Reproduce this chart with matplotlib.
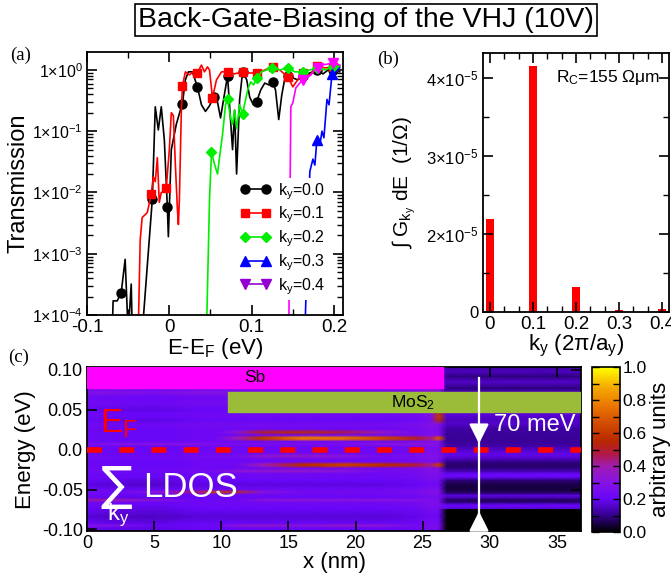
import numpy as np
import matplotlib.pyplot as plt
from matplotlib.colors import LinearSegmentedColormap
from matplotlib.lines import Line2D
from matplotlib.patches import Rectangle
from matplotlib.ticker import MultipleLocator, FixedLocator, FixedFormatter, LogLocator, NullFormatter

plt.rcParams['font.family'] = ['Liberation Sans', 'DejaVu Sans']
plt.rcParams['mathtext.fontset'] = 'custom'
plt.rcParams['mathtext.rm'] = 'Liberation Sans'
plt.rcParams['mathtext.it'] = 'Liberation Sans'
plt.rcParams['mathtext.default'] = 'regular'
plt.rcParams['axes.linewidth'] = 1.3

# (a) transmission vs energy for each k_y
e_k0 = [-0.0695, -0.0683, -0.0634, -0.0585, -0.0537, -0.0500, -0.0463, -0.0450, -0.0330, -0.0207,
        -0.0171, -0.0134, -0.0098, -0.0061, -0.0024, -0.0012, 0.0024, 0.0085, 0.0134, 0.0159,
        0.0195, 0.0232, 0.0280, 0.0341, 0.0390, 0.0439, 0.0488, 0.0537, 0.0585, 0.0622,
        0.0659, 0.0707, 0.0744, 0.0768, 0.0793, 0.0817, 0.0854, 0.0890, 0.0940, 0.0976,
        0.1020, 0.1060, 0.1110, 0.1159, 0.1207, 0.1256, 0.1290, 0.1329, 0.1366, 0.1400,
        0.1440, 0.1500, 0.1560, 0.1620, 0.1680, 0.1740, 0.1800, 0.1866, 0.1930, 0.1990, 0.2070]
t_k0 = [5e-5, 1.7e-4, 1.7e-4, 2.3e-4, 8.1e-4, 5e-5, 3.2e-4, 5e-5, 5e-5, 7.7e-3,
        0.25, 0.105, 0.25, 0.073, 5.7e-3, 1.9e-3, 0.05, 0.13, 0.22, 0.28,
        0.69, 0.93, 0.93, 0.53, 0.27, 0.21, 0.26, 0.36, 0.30, 0.165,
        0.33, 0.80, 0.15, 0.05, 0.22, 0.02, 0.33, 0.93, 0.69, 0.36,
        0.27, 0.30, 0.47, 0.61, 0.57, 0.64, 0.47, 0.155, 0.39, 0.69,
        0.80, 0.74, 0.69, 0.80, 0.86, 0.93, 1.00, 0.86, 1.00, 1.00, 0.93]
m_k0 = [3, 9, 14, 19, 23, 27, 31, 37, 41, 45, 50, 53, 56, 59]

e_k1 = [-0.0378, -0.0354, -0.0330, -0.0268, -0.0220, -0.0195, -0.0171, -0.0146, -0.0122, -0.0098,
        -0.0061, -0.0037, 0.0000, 0.0024, 0.0049, 0.0073, 0.0098, 0.0110, 0.0122, 0.0146,
        0.0159, 0.0195, 0.0244, 0.0290, 0.0341, 0.0390, 0.0427, 0.0463, 0.0488, 0.0524,
        0.0573, 0.0634, 0.0707, 0.0790, 0.0890, 0.0976, 0.1070, 0.1160, 0.1256, 0.1340,
        0.1440, 0.1500, 0.1560, 0.1620, 0.1710, 0.1800, 0.1890, 0.1990, 0.2070]
t_k1 = [5e-5, 1.7e-3, 3.9e-3, 4.7e-3, 9.3e-3, 0.018, 0.015, 0.037, 6.9e-3, 0.010,
        0.0104, 0.012, 0.05, 0.20, 0.18, 0.029, 5.3e-3, 3.0e-3, 7.7e-3, 0.22,
        0.55, 0.93, 0.83, 0.93, 0.89, 1.20, 0.93, 1.12, 1.00, 0.35,
        0.69, 0.93, 0.93, 0.86, 0.93, 0.89, 0.89, 1.00, 1.12, 1.00,
        0.77, 0.53, 0.69, 0.88, 0.83, 1.16, 1.08, 1.12, 1.16]
m_k1 = [4, 11, 20, 24, 29, 32, 34, 36, 38, 40, 43, 45, 47]

e_k2 = [0.0451, 0.0488, 0.0512, 0.0549, 0.0585, 0.0622, 0.0646, 0.0683, 0.0707, 0.0744,
        0.0768, 0.0793, 0.0817, 0.0854, 0.0890, 0.0927, 0.0951, 0.0988, 0.1024, 0.1061,
        0.1120, 0.1183, 0.1244, 0.1340, 0.1440, 0.1524, 0.1620, 0.1710, 0.1800, 0.1890,
        0.1990, 0.2070]
t_k2 = [5e-5, 7.7e-3, 0.045, 0.029, 0.020, 0.050, 0.088, 0.27, 0.33, 0.165,
        0.13, 0.22, 0.11, 0.27, 0.19, 0.33, 0.47, 0.64, 0.57, 0.74,
        0.93, 1.00, 1.08, 1.00, 1.08, 0.93, 0.93, 1.00, 1.08, 1.00,
        1.12, 1.16]
m_k2 = [2, 8, 14, 19, 22, 24, 26, 28, 30]

e_k3 = [0.1646, 0.1707, 0.1744, 0.1768, 0.1793, 0.1830, 0.1854, 0.1878, 0.1915, 0.1940,
        0.1976, 0.2012, 0.2070]
t_k3 = [5e-5, 0.022, 0.035, 0.028, 0.073, 0.060, 0.100, 0.078, 0.33, 0.27,
        0.85, 0.89, 1.08]
m_k3 = [4, 10]

e_k4 = [0.1451, 0.1476, 0.1500, 0.1537, 0.1585, 0.1622, 0.1670, 0.1720, 0.1768, 0.1805,
        0.1854, 0.1930, 0.1988, 0.2070]
t_k4 = [5e-5, 0.25, 0.29, 0.51, 0.61, 0.69, 0.74, 0.83, 1.00, 1.08,
        1.20, 1.25, 1.30, 1.20]
m_k4 = [5, 9, 12]

# (b) energy-integrated conductance per k_y
ky = [0.0, 0.1, 0.2, 0.3, 0.4]
g_int = [2.19e-5, 4.15e-5, 1.32e-5, 1.025e-5, 1.04e-5]

# (c) k_y-summed LDOS map: grid columns (nm), rows (eV)
x_cols = [0, 2, 5, 8, 9.5, 11, 13, 16, 19, 22, 24.5, 25.6, 26.2, 26.8, 27.4, 30, 33, 36.8]
sb_shift = [0.0, -0.01, -0.02, 0.0, 0.0, 0.0, 0.0, 0.0, 0.0, 0.0, 0.02, 0.05, 0.04]
e_rows = [-0.102, -0.098, -0.095, -0.092, -0.084, -0.0745, -0.0735, -0.069, -0.066, -0.063,
          -0.060, -0.057, -0.0555, -0.053, -0.050, -0.044, -0.038, -0.034, -0.030, -0.027,
          -0.023, -0.020, -0.018, -0.015, -0.012, -0.008, -0.004, 0.000, 0.004, 0.007,
          0.0105, 0.0135, 0.0155, 0.0185, 0.022, 0.026, 0.032, 0.037, 0.041, 0.046, 0.050,
          0.058, 0.066, 0.072, 0.077, 0.085, 0.092, 0.098, 0.103]
sb_bg = [0.20, 0.20, 0.22, 0.20, 0.17, 0.20, 0.20, 0.22, 0.22, 0.22,
         0.20, 0.22, 0.22, 0.24, 0.22, 0.18, 0.20, 0.22, 0.22, 0.24,
         0.22, 0.22, 0.22, 0.22, 0.22, 0.24, 0.22, 0.22, 0.22, 0.26,
         0.22, 0.22, 0.22, 0.22, 0.22, 0.22, 0.24, 0.20, 0.22, 0.22, 0.20,
         0.24, 0.22, 0.30, 0.22, 0.22, 0.22, 0.22, 0.22]
mos2_bg = [0.00, 0.00, 0.00, 0.00, 0.00, 0.00, 0.18, 0.20, 0.09, 0.07,
           0.14, 0.18, 0.12, 0.07, 0.05, 0.05, 0.09, 0.20, 0.20, 0.14,
           0.09, 0.08, 0.08, 0.10, 0.14, 0.18, 0.18, 0.16, 0.13, 0.12,
           0.11, 0.11, 0.11, 0.11, 0.12, 0.12, 0.16, 0.15, 0.16, 0.18, 0.14,
           0.15, 0.12, 0.15, 0.09, 0.16, 0.09, 0.15, 0.12]
# bright states on the Sb side: (energies, {column: value})
ldos_peaks = [
    ((-0.095,), {0: 0.30, 1: 0.30, 5: 0.33, 6: 0.36, 7: 0.32, 8: 0.36, 9: 0.33}),
    ((-0.063,), {0: 0.42, 1: 0.40, 2: 0.32, 6: 0.32, 7: 0.34, 8: 0.32, 9: 0.32, 10: 0.30}),
    ((-0.053,), {2: 0.32, 3: 0.45, 4: 0.64, 5: 0.58, 6: 0.32}),
    ((-0.027,), {5: 0.32, 6: 0.35, 7: 0.35, 8: 0.32}),
    ((-0.020, -0.018), {6: 0.38, 7: 0.55, 8: 0.62, 9: 0.56, 10: 0.48, 11: 0.42, 12: 0.62}),
    ((-0.008,), {6: 0.34, 7: 0.36, 8: 0.32}),
    ((0.007,), {1: 0.30, 2: 0.30, 3: 0.30, 9: 0.32, 10: 0.32}),
    ((0.0135, 0.0155), {5: 0.36, 6: 0.58, 7: 0.76, 8: 0.74, 9: 0.64, 10: 0.50, 11: 0.42,
                        12: 0.68}),
    ((0.022,), {5: 0.32, 6: 0.52, 7: 0.56, 8: 0.48, 9: 0.36}),
    ((0.037,), {12: 0.56}),
    ((0.041,), {12: 0.60}),
    ((0.046,), {12: 0.56}),
]

ldos = np.empty((len(e_rows), len(x_cols)))
n_sb = len(sb_shift)
ldos[:, :n_sb] = np.array(sb_bg)[:, None] + np.array(sb_shift)[None, :]
ldos[:, n_sb:] = np.array(mos2_bg)[:, None]
for energies, cols in ldos_peaks:
    for e in energies:
        i = e_rows.index(e)
        for c, v in cols.items():
            ldos[i, c] = v

ldos_cmap = LinearSegmentedColormap.from_list('ldos', [
    (0.0, '#000000'), (0.1, '#34008c'), (0.2, '#6806f8'), (0.3, '#8612e4'),
    (0.4, '#a01cb0'), (0.47, '#b01848'), (0.55, '#b82800'), (0.65, '#d04800'),
    (0.75, '#e87000'), (0.87, '#f4a400'), (1.0, '#ffff00')])


def style_ticks(ax):
    ax.tick_params(which='both', direction='in', top=True, right=True)
    ax.tick_params(which='major', length=7, width=1.2)
    ax.tick_params(which='minor', length=4, width=1.0)


fig = plt.figure(figsize=(6.71, 5.85), dpi=100)

fig.text(0.5455, 0.966, 'Back-Gate-Biasing of the VHJ (10V)', ha='center', va='center',
         fontsize=20.5, bbox=dict(boxstyle='square,pad=0.1', fc='white', ec='black', lw=1.2))

# ---- panel (a)
ax_a = fig.add_axes([0.1297, 0.4615, 0.3815, 0.4496])
ax_a.set_yscale('log')
series = [
    (e_k0, t_k0, m_k0, 'black', 'o', 6.5),
    (e_k1, t_k1, m_k1, 'red', 's', 5.5),
    (e_k2, t_k2, m_k2, '#00ee00', 'D', 5.0),
    (e_k3, t_k3, m_k3, 'blue', '^', 6.5),
    (e_k4, t_k4, m_k4, '#ff00ff', 'v', 6.5),
]
for e, t, m, col, mk, ms in series:
    ax_a.plot(e, t, color=col, lw=1.2, marker=mk, ms=ms, markevery=m, mfc=col, mec=col)
ax_a.set_xlim(-0.1, 0.211)
ax_a.set_ylim(1e-4, 1.96)
ax_a.xaxis.set_major_locator(FixedLocator([-0.1, 0.0, 0.1, 0.2]))
ax_a.xaxis.set_major_formatter(FixedFormatter(['-0.1', '0', '0.1', '0.2']))
ax_a.xaxis.set_minor_locator(MultipleLocator(0.05))
ax_a.yaxis.set_major_locator(FixedLocator([1e-4, 1e-3, 1e-2, 1e-1, 1e0]))
ax_a.yaxis.set_major_formatter(FixedFormatter(
    ['1×10$^{-4}$', '1×10$^{-3}$', '1×10$^{-2}$', '1×10$^{-1}$', '1×10$^{0}$']))
ax_a.yaxis.set_minor_locator(LogLocator(base=10, subs=np.arange(2, 10), numticks=20))
ax_a.yaxis.set_minor_formatter(NullFormatter())
style_ticks(ax_a)
ax_a.tick_params(axis='x', labelsize=13.5, pad=3)
ax_a.tick_params(axis='y', labelsize=11.5, pad=3)
ax_a.set_xlabel('E-E$_F$ (eV)', fontsize=16, labelpad=0)
ax_a.set_ylabel('Transmission', fontsize=17, labelpad=2)

leg_handles = [
    Line2D([0], [0], color='black', lw=1.2, marker='o', ms=6.5),
    Line2D([0], [0], color='red', lw=1.2, marker='s', ms=5.5),
    Line2D([0], [0], color='#00ee00', lw=1.2, marker='D', ms=5.0),
    Line2D([0], [0], color='blue', lw=1.2, marker='^', ms=6.5),
    Line2D([0], [0], color='#9400d3', lw=1.2, marker='v', ms=6.5),
]
leg_labels = ['k$_y$=0.0', 'k$_y$=0.1', 'k$_y$=0.2', 'k$_y$=0.3', 'k$_y$=0.4']
leg = ax_a.legend(leg_handles, leg_labels, loc='upper left', bbox_to_anchor=(0.586, 0.522),
                  borderaxespad=0, frameon=True, facecolor='white', edgecolor='none',
                  framealpha=1, fancybox=False, numpoints=2, handlelength=1.9,
                  handletextpad=0.45, labelspacing=0.2, fontsize=11.5, borderpad=0.2)

# ---- panel (b)
ax_b = fig.add_axes([0.7198, 0.4667, 0.2772, 0.4427])
ax_b.bar(ky, g_int, width=0.018, color='red')
ax_b.set_xlim(-0.016, 0.416)
ax_b.set_ylim(1e-5, 4.32e-5)
ax_b.xaxis.set_major_locator(FixedLocator(ky))
ax_b.xaxis.set_major_formatter(FixedFormatter(['0', '0.1', '0.2', '0.3', '0.4']))
ax_b.xaxis.set_minor_locator(MultipleLocator(0.1 / 3))
ax_b.yaxis.set_major_locator(FixedLocator([1e-5, 2e-5, 3e-5, 4e-5]))
ax_b.yaxis.set_major_formatter(FixedFormatter(
    ['0', '2×10$^{-5}$', '3×10$^{-5}$', '4×10$^{-5}$']))
ax_b.yaxis.set_minor_locator(FixedLocator([1.5e-5, 2.5e-5, 3.5e-5]))
style_ticks(ax_b)
ax_b.tick_params(axis='x', labelsize=13.5, pad=3)
ax_b.tick_params(axis='y', labelsize=12, pad=3)
ax_b.set_xlabel('k$_y$ (2π/a$_y$)', fontsize=16, labelpad=0)
ax_b.set_ylabel('∫ G$_{k_y}$ dE  (1/Ω)', fontsize=15, labelpad=6)
ax_b.text(0.39, 0.905, 'R$_C$=155 Ωμm', transform=ax_b.transAxes, fontsize=12.5,
          ha='left', va='center')

# ---- panel (c)
ax_c = fig.add_axes([0.1297, 0.0923, 0.7362, 0.2795])
mesh = ax_c.pcolormesh(x_cols, e_rows, ldos, shading='gouraud', cmap=ldos_cmap,
                       vmin=0, vmax=1, rasterized=True)
ax_c.set_xlim(0, 36.8)
ax_c.set_ylim(-0.102, 0.103)
ax_c.add_patch(Rectangle((0, 0.0775), 26.5, 0.03, color='#ff00ff', zorder=3))
ax_c.add_patch(Rectangle((10.5, 0.0475), 27, 0.025, color='#9bbc38', zorder=3))
ax_c.text(12.5, 0.0905, 'Sb', ha='center', va='center', fontsize=12.5, zorder=4)
ax_c.text(24.3, 0.0595, 'MoS$_2$', ha='center', va='center', fontsize=12.5, zorder=4)
ax_c.axhline(0.0, color='red', lw=4, dashes=(2.7, 3.1), zorder=3)

x_arrow = 29.2
ax_c.plot([x_arrow, x_arrow], [0.09, -0.102], color='white', lw=1.6, zorder=4)
ax_c.annotate('', xy=(x_arrow, 0.004), xytext=(x_arrow, 0.03),
              arrowprops=dict(arrowstyle='-|>', color='white', lw=1.6, mutation_scale=30),
              zorder=5)
ax_c.annotate('', xy=(x_arrow, -0.074), xytext=(x_arrow, -0.1),
              arrowprops=dict(arrowstyle='-|>', color='white', lw=1.6, mutation_scale=30),
              zorder=5)
ax_c.text(30.3, 0.031, '70 meV', color='white', fontsize=17, ha='left', va='center', zorder=5)
ax_c.text(1.0, 0.033, 'E$_F$', color='red', fontsize=24, ha='left', va='center', zorder=5)
ax_c.text(1.0, -0.047, '∑', color='white', fontsize=34, ha='left', va='center', zorder=5,
          family=['DejaVu Sans'])
ax_c.text(4.2, -0.047, 'LDOS', color='white', fontsize=25, ha='left', va='center', zorder=5)
ax_c.text(1.5, -0.082, 'k$_y$', color='white', fontsize=17, ha='left', va='center', zorder=5)

ax_c.xaxis.set_major_locator(MultipleLocator(5))
ax_c.yaxis.set_major_locator(FixedLocator([-0.1, -0.05, 0.0, 0.05, 0.1]))
ax_c.yaxis.set_major_formatter(FixedFormatter(['-0.10', '-0.05', '0.0', '0.05', '0.10']))
style_ticks(ax_c)
ax_c.tick_params(labelsize=13, pad=3)
ax_c.set_xlabel('x (nm)', fontsize=16, labelpad=0)
ax_c.set_ylabel('Energy (eV)', fontsize=16, labelpad=4)

cax = fig.add_axes([0.8823, 0.0906, 0.0417, 0.282])
cb = fig.colorbar(mesh, cax=cax)
cb.outline.set_linewidth(1.2)
cb.set_ticks([0.0, 0.2, 0.4, 0.6, 0.8, 1.0])
cb.set_ticklabels(['0.0', '0.2', '0.4', '0.6', '0.8', '1.0'])
cax.yaxis.set_minor_locator(MultipleLocator(0.1))
cax.tick_params(which='both', direction='in', left=True, right=True, length=5, width=1.0)
cax.tick_params(labelsize=12.5, pad=2)
cb.set_label('arbitrary units', fontsize=16, labelpad=2)

fig.text(0.015, 0.905, '(a)', family='Liberation Serif', fontsize=13.5, va='center')
fig.text(0.562, 0.899, '(b)', family='Liberation Serif', fontsize=13.5, va='center')
fig.text(0.012, 0.39, '(c)', family='Liberation Serif', fontsize=13.5, va='center')

fig.savefig('out.png', dpi=100)
